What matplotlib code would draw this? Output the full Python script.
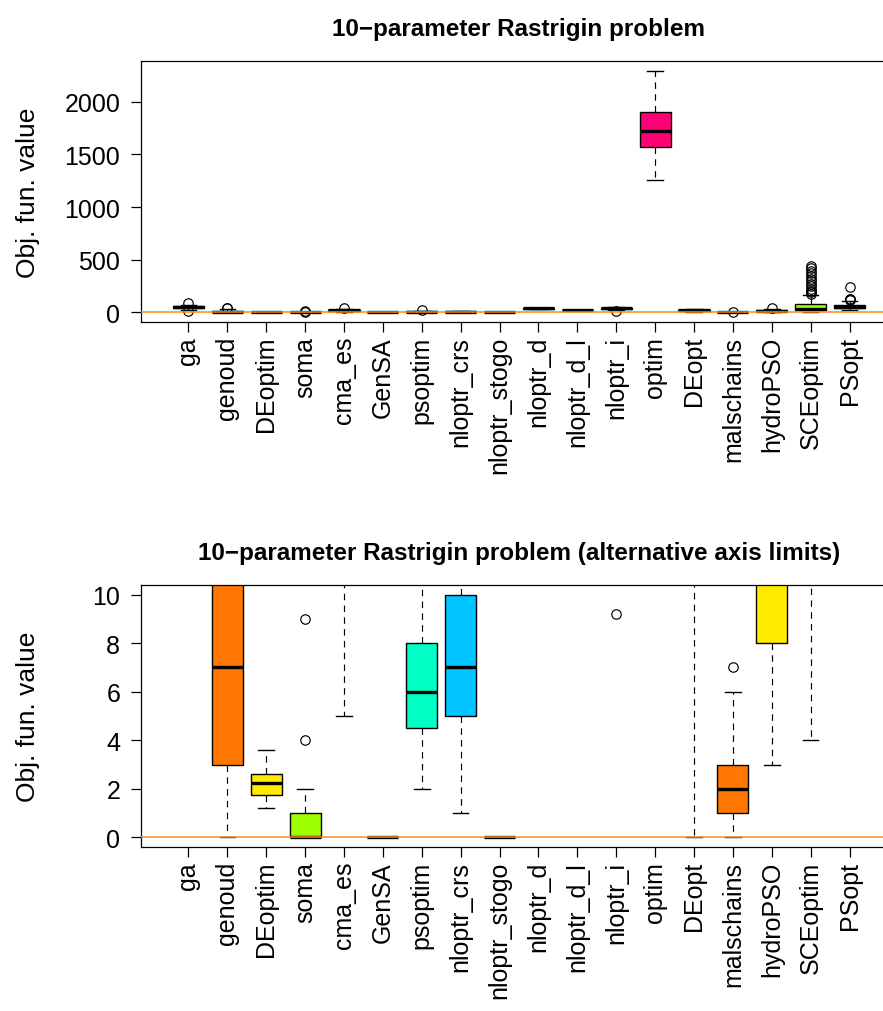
import colorsys
import matplotlib
matplotlib.use("Agg")
import matplotlib.pyplot as plt

plt.rcParams['font.family'] = ['Liberation Sans', 'DejaVu Sans']

# algorithms, in plotting order
names = ["ga", "genoud", "DEoptim", "soma", "cma_es", "GenSA", "psoptim",
         "nloptr_crs", "nloptr_stogo", "nloptr_d", "nloptr_d_l", "nloptr_i",
         "optim", "DEopt", "malschains", "hydroPSO", "SCEoptim", "PSopt"]

# box statistics
whislo = [25, 0, 1.2, 0, 5, 0, 2, 1, 0, 35, 18, 22, 1262, 0, 0, 3, 4, 20]
q1 = [38, 3, 1.75, 0, 12, 0, 4.5, 5, 0, 36, 19, 32, 1572, 14, 1, 8, 20, 38]
med = [48, 7, 2.25, 0, 18, 0, 6, 7, 0, 38, 20, 38, 1720, 20, 2, 12, 35, 52]
q3 = [58, 14, 2.6, 1, 24, 0.02, 8, 10, 0.02, 40, 21, 42, 1904, 26, 3, 18, 80, 68]
whishi = [70, 28, 3.6, 2, 35, 0.02, 13, 14, 0.02, 41, 22, 50, 2296, 35, 6, 30, 160, 108]
fliers = [[88, 14], [40, 45], [], [4, 9], [45], [], [19], [], [], [], [], [9.2],
          [], [], [7], [42],
          [175, 190, 205, 220, 250, 270, 300, 320, 345, 370, 395, 420, 440],
          [115, 122, 130, 245]]

# rainbow(13), recycled
colors = []
for i in range(len(names)):
    r, g, b = colorsys.hsv_to_rgb((i % 13) / 13.0, 1, 1)
    colors.append((r, g, b))

stats = []
for i in range(len(names)):
    stats.append(dict(label=names[i], whislo=whislo[i], q1=q1[i], med=med[i],
                      q3=q3[i], whishi=whishi[i], fliers=fliers[i]))

fig = plt.figure(figsize=(8.83, 10.12), dpi=100)
W, H = 883.0, 1012.0
left = 141 / W
width = 756 / W
ax1 = fig.add_axes([left, 1 - 323 / H, width, (323 - 62) / H])
ax2 = fig.add_axes([left, 1 - 848 / H, width, (848 - 586) / H])


def draw(ax, lo, hi, yticks, title):
    pos = list(range(1, len(names) + 1))
    bp = ax.bxp(stats, positions=pos, widths=0.8, patch_artist=True,
                manage_ticks=False,
                boxprops=dict(edgecolor='black', linewidth=1.0),
                medianprops=dict(color='black', linewidth=2.4, solid_capstyle='butt'),
                whiskerprops=dict(color='black', linewidth=0.85, linestyle=(0, (5.5, 4.5))),
                capprops=dict(color='black', linewidth=1.0),
                flierprops=dict(marker='o', markerfacecolor='none', markeredgecolor='black',
                                markersize=6.8, markeredgewidth=0.85, linestyle='none'))
    for patch, c in zip(bp['boxes'], colors):
        patch.set_facecolor(c)
    ax.axhline(0, color='#FF8A1C', linewidth=1.1, zorder=5)
    pad = 0.04 * (hi - lo)
    ax.set_ylim(lo - pad, hi + pad)
    n = len(names)
    ax.set_xlim(0.5 - 0.04 * n, n + 0.5 + 0.04 * n)
    ax.set_xticks(pos)
    ax.set_xticklabels(names, rotation=90, fontsize=18)
    ax.set_yticks(yticks)
    ax.set_yticklabels([str(t) for t in yticks], fontsize=18)
    ax.tick_params(direction='out', length=7, width=0.9, pad=3)
    ax.tick_params(axis='y', pad=8)
    for s in ax.spines.values():
        s.set_linewidth(0.9)
    ax.set_ylabel("Obj. fun. value", fontsize=19)
    ax.yaxis.set_label_coords(-0.134, 0.5)
    ax.set_title(title, fontsize=17.5, fontweight='bold', pad=19)


all_lo = min(min(whislo), min(min(f) for f in fliers if f))
all_hi = max(max(whishi), max(max(f) for f in fliers if f))
draw(ax1, all_lo, all_hi, [0, 500, 1000, 1500, 2000], "10\u2212parameter Rastrigin problem")
draw(ax2, 0, 10, [0, 2, 4, 6, 8, 10],
     "10\u2212parameter Rastrigin problem (alternative axis limits)")

fig.savefig("out.png", dpi=100)
